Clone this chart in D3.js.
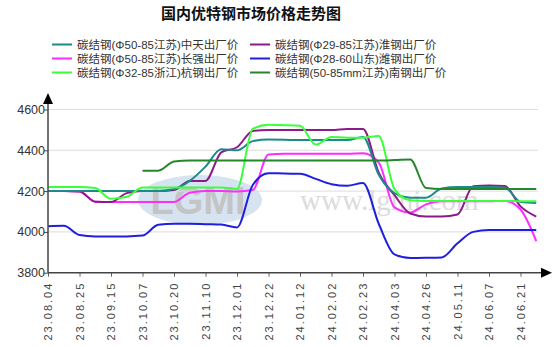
<!DOCTYPE html>
<html lang="zh">
<head>
    <meta charset="UTF-8">
    <title>国内优特钢市场价格走势图</title>
    <script src="https://d3js.org/d3.v7.min.js"></script>
    <style>
        body {
            margin: 0;
            background: #fff;
        }
        svg {
            display: block;
            font-family: "Liberation Sans", Arial, "Noto Sans CJK SC", sans-serif;
        }
    </style>
</head>
<body>
<svg width="554" height="347"></svg>

<script>
    // x tick labels (one every 2 data points)
    const tickLabels = ["23.08.04", "23.08.25", "23.09.15", "23.10.07", "23.10.20", "23.11.10",
        "23.12.01", "23.12.22", "24.01.12", "24.02.02", "24.02.23", "24.04.03",
        "24.04.26", "24.05.11", "24.06.07", "24.06.21"];

    const yTicks = [3800, 4000, 4200, 4400, 4600];

    const seriesNames = [
        "碳结钢(Φ50-85江苏)中天出厂价",
        "碳结钢(Φ29-85江苏)淮钢出厂价",
        "碳结钢(Φ50-85江苏)长强出厂价",
        "碳结钢(Φ28-60山东)潍钢出厂价",
        "碳结钢(Φ32-85浙江)杭钢出厂价",
        "碳结钢(50-85mm江苏)南钢出厂价"
    ];
    const seriesColors = ["#1b8a8c", "#8b1a8b", "#ff2cff", "#1f1fe0", "#3cff3c", "#23882a"];

    // values, half a tick apart
    const zhongtian = [4200, 4200, 4200, 4200, 4200, 4200, 4200, 4200, 4210, 4250, 4320, 4405, 4400, 4445, 4453, 4452,
        4450, 4450, 4450, 4450, 4465, 4280, 4190, 4168, 4168, 4213, 4220, 4220, 4220, 4218, 4147, 4142];
    const huaigang = [4200, 4200, 4198, 4148, 4147, 4190, 4200, 4200, 4205, 4250, 4250, 4390, 4415, 4495, 4500, 4500,
        4500, 4500, 4500, 4505, 4505, 4290, 4180, 4090, 4075, 4075, 4085, 4224, 4228, 4225, 4125, 4075];
    const changqiang = [4200, 4200, 4198, 4148, 4147, 4147, 4147, 4147, 4147, 4192, 4200, 4200, 4198, 4205, 4380, 4383,
        4383, 4383, 4383, 4383, 4385, 4340, 4120, 4095, 4135, 4150, 4150, 4150, 4150, 4152, 4110, 3955];
    const weigang = [4028, 4030, 3985, 3978, 3978, 3978, 3982, 4035, 4040, 4040, 4038, 4036, 4022, 4230, 4288, 4286,
        4285, 4260, 4234, 4226, 4240, 4040, 3890, 3872, 3873, 3875, 3944, 4000, 4009, 4009, 4009, 4009];
    const hanggang = [4220, 4220, 4220, 4215, 4162, 4172, 4218, 4218, 4218, 4218, 4218, 4218, 4210, 4505, 4525, 4523,
        4520, 4428, 4465, 4462, 4462, 4470, 4210, 4155, 4152, 4152, 4152, 4152, 4152, 4152, 4150, 4150];
    const nangang = [null, null, null, null, null, null, 4300, 4300, 4345, 4350, 4350, 4350, 4350, 4350, 4350, 4350,
        4350, 4350, 4350, 4350, 4350, 4350, 4352, 4355, 4215, 4210, 4210, 4210, 4210, 4210, 4210, 4210];

    const seriesData = [zhongtian, huaigang, changqiang, weigang, hanggang, nangang];
    const drawOrder = [2, 1, 0, 4, 3, 5];

    let svg = d3.select("svg");

    const plotLeft = 48, plotRight = 538, plotTop = 109.5, plotBottom = 272.7;

    // x in tick units, data every half tick
    let x = d3.scaleLinear().domain([0, tickLabels.length - 1]).range([plotLeft, 520.5]);
    let y = d3.scaleLinear().domain([3800, 4600]).range([plotBottom, plotTop]);

    // title
    svg.append("text")
        .attr("x", 251).attr("y", 19)
        .attr("text-anchor", "middle")
        .style("font-family", "'Noto Sans CJK SC', sans-serif")
        .style("font-size", "15px").style("font-weight", "bold")
        .attr("fill", "#111")
        .text("国内优特钢市场价格走势图");

    // legend, two columns
    let legend = svg.append("g");
    seriesNames.forEach(function (name, i) {
        let col = i % 2, row = Math.floor(i / 2);
        let lx = col === 0 ? 52 : 250;
        let ly = 44.5 + row * 14;
        legend.append("line")
            .attr("x1", lx).attr("x2", lx + 20)
            .attr("y1", ly).attr("y2", ly)
            .attr("stroke", seriesColors[i]).attr("stroke-width", 2);
        legend.append("text")
            .attr("x", lx + 25).attr("y", ly + 4.5)
            .style("font-size", "11.5px")
            .attr("fill", "#333")
            .text(name);
    });

    // watermark
    let wm = svg.append("g");
    wm.append("ellipse")
        .attr("cx", 200).attr("cy", 200).attr("rx", 62).attr("ry", 25)
        .attr("fill", "#d6e3f1");
    wm.append("text")
        .attr("x", 198).attr("y", 214)
        .attr("text-anchor", "middle")
        .style("font-size", "38px").style("font-weight", "bold")
        .attr("fill", "#c4c4c4")
        .text("LGMI");
    wm.append("text")
        .attr("x", 300).attr("y", 210)
        .style("font-family", "'Liberation Serif', serif")
        .style("font-size", "29px")
        .attr("fill", "#dcdcdc")
        .text("www.lgmi.com");

    // grid lines
    svg.append("g")
        .selectAll("line")
        .data(yTicks.slice(1))
        .enter()
        .append("line")
        .attr("x1", plotLeft).attr("x2", plotRight)
        .attr("y1", d => y(d)).attr("y2", d => y(d))
        .attr("stroke", "#dcdcdc").attr("stroke-width", 1);

    // series lines
    const line = d3.line()
        .defined(d => d != null)
        .x((d, i) => x(i / 2))
        .y(d => y(d))
        .curve(d3.curveMonotoneX);

    drawOrder.forEach(function (k) {
        svg.append("path")
            .attr("d", line(seriesData[k]))
            .attr("fill", "none")
            .attr("stroke", seriesColors[k])
            .attr("stroke-width", 2)
            .attr("stroke-linejoin", "round");
    });

    // y axis
    let yAxis = svg.append("g")
        .attr("transform", `translate(${plotLeft},0)`)
        .call(d3.axisLeft(y).tickValues(yTicks).tickFormat(d3.format("d"))
            .tickSize(4).tickSizeOuter(0));
    yAxis.select(".domain").remove();
    yAxis.selectAll("line").attr("stroke", "#444");
    yAxis.selectAll("text")
        .attr("x", -3)
        .style("font-size", "12.5px")
        .style("font-family", "'Liberation Sans', Arial, sans-serif")
        .attr("fill", "#333");

    // x axis
    let xAxis = svg.append("g")
        .attr("transform", `translate(0,${plotBottom})`)
        .call(d3.axisBottom(x).tickValues(d3.range(tickLabels.length))
            .tickFormat(i => tickLabels[i]).tickSize(4).tickSizeOuter(0));
    xAxis.select(".domain").remove();
    xAxis.selectAll("line").attr("stroke", "#666");
    xAxis.selectAll("text")
        .attr("transform", "rotate(-90)")
        .attr("text-anchor", "end")
        .attr("x", -9).attr("y", 0).attr("dy", "0.35em")
        .style("font-size", "11px")
        .style("letter-spacing", "2px")
        .style("font-family", "'Liberation Sans', Arial, sans-serif")
        .attr("fill", "#444");

    // axis lines with arrows
    svg.append("line")
        .attr("x1", plotLeft).attr("x2", plotLeft)
        .attr("y1", plotBottom).attr("y2", 100)
        .attr("stroke", "#444").attr("stroke-width", 1.5);
    svg.append("path")
        .attr("d", `M${plotLeft},93 L${plotLeft - 5},104 L${plotLeft + 5},104 Z`)
        .attr("fill", "#000");
    svg.append("line")
        .attr("x1", plotLeft).attr("x2", 545)
        .attr("y1", plotBottom).attr("y2", plotBottom)
        .attr("stroke", "#444").attr("stroke-width", 1.5);
    svg.append("path")
        .attr("d", `M552,${plotBottom} L541,${plotBottom - 5} L541,${plotBottom + 5} Z`)
        .attr("fill", "#000");
</script>
</body>
</html>
